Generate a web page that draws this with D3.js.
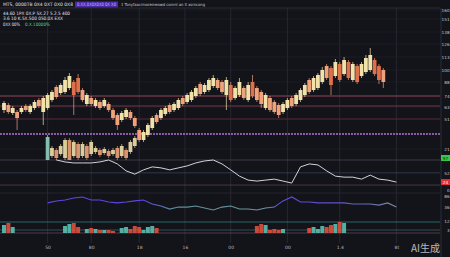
<!DOCTYPE html>
<html><head><meta charset="utf-8">
<script src="https://cdn.jsdelivr.net/npm/d3@7"></script>
<style>html,body{margin:0;padding:0;background:#13131a;overflow:hidden}
text{font-family:"DejaVu Sans",sans-serif}</style>
</head><body><svg id="c" width="450" height="257"></svg>
<script>
// ---------- DATA ----------
const opens  = [60,65,57,58,58,64,58,62,70,58, 62,70,83,77,78,82,88,92,80,66, 72,64,68,64,66,60,55,50,53,58, 52,40,30,35,42,55,52,56,65,60, 62,72,68,70,74,86,78,80,84,90, 88,75,85,72,75,82,70,88,82,78, 62,72,68,65,58,62,72,66,70,75, 90,80,82,88,104,102,94,106,96,108, 90,104,94,98,100,110,104,100];
const closes = [67,58,62,52,62,60,64,68,64,72, 75,78,73,85,90,94,75,78,70,75, 66,70,62,70,60,52,45,57,60,52, 44,30,38,45,52,48,60,62,58,66, 70,66,75,78,82,76,85,90,92,82, 78,90,70,82,88,72,85,74,70,66, 75,60,58,55,66,70,64,75,80,85, 78,92,95,100,92,85,108,90,110,92, 106,88,106,112,115,96,90,88];
const highs  = [69,67,64,60,64,66,66,70,72,74, 77,80,85,87,93,97,90,96,82,77, 74,72,70,72,68,62,57,59,62,60, 54,42,40,47,54,57,62,64,67,68, 72,74,77,80,84,88,87,92,95,92, 90,93,88,84,92,84,88,95,84,80, 77,74,70,67,68,72,74,77,82,87, 92,94,97,103,106,104,111,108,113,110, 108,106,108,115,122,112,106,102];
const lows   = [57,56,55,40,56,58,56,60,62,45, 60,68,71,75,76,80,55,76,68,64, 64,62,60,62,58,50,40,48,51,50, 42,28,28,33,40,46,50,54,56,58, 60,64,66,68,72,74,76,78,82,80, 76,60,68,70,73,70,68,72,68,62, 60,58,56,52,56,60,62,64,68,73, 76,78,80,86,90,75,92,88,94,90, 88,86,92,96,98,94,86,82];

// secondary faint candle cluster (index 10..30)
const lowStart = 10;
const lowOpens  = [10,14,20,16,12,30,14,26,14,24,16,18,20,17,19,16,22,14,20,18,24];
const lowCloses = [33,22,12,24,30,10,28,12,26,12,28,22,15,21,14,20,12,24,12,28,32];
const lowHighs  = [35,24,22,26,32,32,30,28,28,26,30,24,22,23,21,22,24,26,22,30,34];
const lowLows   = [10,12,10,14,10,10,12,10,12,10,14,16,13,15,12,14,10,12,10,16,22];

const volumes = [8,10,6,0,0,0,0,0,0,0, 0,0,0,0,7,9,10,6,0,4, 5,4,3,3,3,2,0,5,6,4, 7,6,3,6,7,5,0,0,0,0,
  0,0,0,0,0,0,0,0,0,0, 0,0,0,0,0,0,0,0,7,9, 8,3,4,3,4,0,0,0,0,0, 5,6,4,7,6,8,9,11,10,0, 0,0,0,0,0,0,0,0];

// oscillator (white) sampled at index 12,14,...,90
const whiteStart = 12;
const whiteVals = [91,85,82,82,82,85,91,79,58,48,61,70,67,61,67,73,82,88,91,79,61,42,30,27,30,33,27,21,70,79,76,58,42,39,39,33,45,33,30,24];
// indicator (blue) sampled at index 10,12,...,90
const blueStart = 10;
const blueVals = [55,64,68,77,82,68,68,59,55,59,64,68,50,41,27,36,36,41,32,23,36,41,27,27,23,32,36,64,82,59,59,55,55,55,55,50,50,50,45,55,36];

const levels = [74,64,51];
const purpleLevel = 36;
const priceTicks = [160,151,138,126,113,100,88,74,63,51,21];
const xTickIdx = [10,20,31,41.5,52,65,77,90];
const xTickLabels = ["50","80","18","16","00","00","1.4","8t"];
const headerLines = [
  "MTS, 0000TB  0X4  0XT  0X0  0X8",
  "44.60  1PX  0X.P 5X.27  5.2.5 400",
  "3.6  10  K.5X.500  050.0X  EXX",
  "0XX  00%"
];
const headerTag = "0.XX.0X0X0X0 0X X0";
const headerNote = "1   Tonyfaacrmoremeowd  comnl  an X xsrncong";
const headerGreen = "0.X.10000%";

// ---------- CHART ----------
const svg = d3.select('#c');
svg.append('rect').attr('width',450).attr('height',257).attr('fill','#13131a');

const x  = d3.scaleLinear().domain([0,100]).range([4,440]);
const yP = d3.scaleLinear().domain([10,160]).range([160,10]);
const yW = d3.scaleLinear().domain([0,100]).range([190,157]);
const yB = d3.scaleLinear().domain([0,100]).range([215,193]);
const yV = d3.scaleLinear().domain([0,12]).range([233,221]);

// grid
svg.append('g').selectAll('line').data(xTickIdx).join('line')
  .attr('x1',d=>x(d)).attr('x2',d=>x(d)).attr('y1',8).attr('y2',243)
  .attr('stroke','#2c2c38').attr('stroke-width',0.8);
svg.append('g').selectAll('line').data(priceTicks).join('line')
  .attr('x1',0).attr('x2',440).attr('y1',d=>yP(d)).attr('y2',d=>yP(d))
  .attr('stroke','#23232e').attr('stroke-width',0.6);
svg.append('line').attr('x1',0).attr('x2',440).attr('y1',8).attr('y2',8).attr('stroke','#34343f').attr('stroke-width',0.8);
svg.append('line').attr('x1',441).attr('x2',441).attr('y1',8).attr('y2',257).attr('stroke','#34343f').attr('stroke-width',0.8);

// level lines
svg.append('g').selectAll('line').data(levels).join('line')
  .attr('x1',0).attr('x2',440).attr('y1',d=>yP(d)).attr('y2',d=>yP(d))
  .attr('stroke',(d,i)=>['#a2475a','#87384a','#5e2636'][i]).attr('stroke-width',0.9);
svg.append('line').attr('x1',0).attr('x2',440).attr('y1',yP(purpleLevel)).attr('y2',yP(purpleLevel))
  .attr('stroke','#b275d6').attr('stroke-width',1.3).attr('stroke-dasharray','2,1');

// panel separators
const seps = [[yP(10),'#4a4a5a'],[yW(52),'#3b4a5c'],[yW(15),'#5a4a55'],[yB(100),'#2c2c38'],[yV(11),'#2f8a86'],[yV(3),'#3a6a78'],[yV(0),'#6a4a5a']];
svg.append('g').selectAll('line').data(seps).join('line')
  .attr('x1',0).attr('x2',440).attr('y1',d=>d[0]).attr('y2',d=>d[0])
  .attr('stroke',d=>d[1]).attr('stroke-width',0.7);

const upC='#f1e2aa', dnC='#f0a27a';
const bw = 3.8;
// lower faint cluster
const lowData = lowOpens.map((o,i)=>({i:i+lowStart,o,c:lowCloses[i],h:lowHighs[i],l:lowLows[i]}));
const gl = svg.append('g').attr('opacity',0.9);
gl.selectAll('line').data(lowData).join('line')
  .attr('x1',d=>x(d.i)).attr('x2',d=>x(d.i)).attr('y1',d=>yP(d.h)).attr('y2',d=>yP(d.l))
  .attr('stroke',d=>d.c>=d.o?upC:dnC).attr('stroke-width',0.7);
gl.selectAll('rect').data(lowData).join('rect')
  .attr('x',d=>x(d.i)-bw/2).attr('width',bw)
  .attr('y',d=>yP(Math.max(d.o,d.c))).attr('height',d=>Math.max(1,yP(Math.min(d.o,d.c))-yP(Math.max(d.o,d.c))))
  .attr('fill',(d,i)=>i===0?'#8fd0c0':(d.c>=d.o?upC:dnC));

// main candles
const data = opens.map((o,i)=>({i,o,c:closes[i],h:highs[i],l:lows[i]}));
const gc = svg.append('g');
gc.selectAll('line').data(data).join('line')
  .attr('x1',d=>x(d.i)).attr('x2',d=>x(d.i)).attr('y1',d=>yP(d.h)).attr('y2',d=>yP(d.l))
  .attr('stroke',d=>d.c>=d.o?upC:dnC).attr('stroke-width',0.7);
gc.selectAll('rect').data(data).join('rect')
  .attr('x',d=>x(d.i)-bw/2).attr('width',bw)
  .attr('y',d=>yP(Math.max(d.o,d.c))).attr('height',d=>Math.max(1,yP(Math.min(d.o,d.c))-yP(Math.max(d.o,d.c))))
  .attr('fill',d=>d.c>=d.o?upC:(d.o-d.c>12?'#e0704a':dnC));

// white oscillator
const wPts = whiteVals.map((v,k)=>[x(whiteStart+2*k), yW(v)]);
svg.append('path').attr('d',d3.line()(wPts))
  .attr('fill','none').attr('stroke','#e6e6ee').attr('stroke-width',0.9);

// blue indicator with gradient
const defs = svg.append('defs');
const gr = defs.append('linearGradient').attr('id','bg').attr('gradientUnits','userSpaceOnUse')
  .attr('x1',x(blueStart)).attr('x2',x(90)).attr('y1',0).attr('y2',0);
[[0,'#5a48e0'],[0.28,'#5a48e0'],[0.36,'#5f8c98'],[0.62,'#6a9aa0'],[0.68,'#5c4ae0'],[0.82,'#5a50c8'],[1,'#7a8aa0']]
  .forEach(s=>gr.append('stop').attr('offset',s[0]).attr('stop-color',s[1]));
const bPts = blueVals.map((v,k)=>[x(blueStart+2*k), yB(v)]);
svg.append('path').attr('d',d3.line()(bPts))
  .attr('fill','none').attr('stroke','url(#bg)').attr('stroke-width',1.1);

// volume
const vData = volumes.map((v,i)=>({i,v})).filter(d=>d.v>0);
svg.append('g').selectAll('rect').data(vData).join('rect')
  .attr('x',d=>x(d.i)-2).attr('width',4)
  .attr('y',d=>yV(d.v)).attr('height',d=>yV(0)-yV(d.v))
  .attr('fill',d=>closes[d.i]>=opens[d.i]?'#5cc0b0':'#e0503e').attr('opacity',0.9);

// axes (right, right-aligned)
function rightAxis(scale, ticks){
  const g = svg.append('g').attr('transform','translate(442,0)')
    .call(d3.axisRight(scale).tickValues(ticks).tickSize(0).tickPadding(0).tickFormat(d3.format('d')));
  g.select('.domain').remove();
  g.selectAll('text').attr('x',7.6).attr('text-anchor','end').attr('fill','#c8c8d0').style('font-size','4.2px');
}
rightAxis(yP, priceTicks);
rightAxis(yW, [52,0]);
rightAxis(yB, [86,36]);
rightAxis(yV, [12,3]);

// value boxes
const lastW = whiteVals[whiteVals.length-1];
svg.append('rect').attr('x',441).attr('y',yW(97)-3).attr('width',9).attr('height',6).attr('fill','#36c84a');
svg.append('text').attr('x',445.5).attr('y',yW(97)+1.6).attr('text-anchor','middle').attr('fill','#0b2a10').style('font-size','4.2px').text('97');
svg.append('rect').attr('x',441).attr('y',yW(lastW)-3).attr('width',9).attr('height',6).attr('fill','#e0303a');
svg.append('text').attr('x',445.5).attr('y',yW(lastW)+1.6).attr('text-anchor','middle').attr('fill','#fff').style('font-size','4.2px').text(lastW);

const axb = svg.append('g').attr('transform','translate(0,244)')
  .call(d3.axisBottom(x).tickValues(xTickIdx).tickSize(0).tickPadding(2).tickFormat((d,i)=>xTickLabels[i]));
axb.select('.domain').remove();
axb.selectAll('text').attr('fill','#b8b8c0').style('font-size','4.5px');

// header
const hg = svg.append('g').style('font-size','4.6px').style('white-space','pre');
const hW = [70,67,60,17];
hg.selectAll('text.h').data(headerLines).join('text').attr('class','h')
  .attr('x',3).attr('y',(d,i)=>[6,14.5,20,25.5][i]).attr('fill','#e0e0e8')
  .attr('textLength',(d,i)=>hW[i]).attr('lengthAdjust','spacingAndGlyphs').text(d=>d);
hg.append('rect').attr('x',75).attr('y',1.5).attr('width',43).attr('height',6).attr('fill','#4a2aa8');
hg.append('text').attr('x',77).attr('y',6).attr('fill','#c8b8ff')
  .attr('textLength',39).attr('lengthAdjust','spacingAndGlyphs').text(headerTag);
hg.append('text').attr('x',121).attr('y',6).attr('fill','#d0d0d8').style('font-size','4px')
  .attr('textLength',84).attr('lengthAdjust','spacingAndGlyphs').text(headerNote);
hg.append('text').attr('x',25).attr('y',25.5).attr('fill','#5fd08a')
  .attr('textLength',25).attr('lengthAdjust','spacingAndGlyphs').text(headerGreen);

// watermark
svg.append('text').attr('x',411).attr('y',252).attr('fill','#e0e0e0').attr('opacity',0.8)
  .style('font-family','"Noto Sans CJK SC",sans-serif').style('font-size','10px').text('AI生成');
</script></body></html>
